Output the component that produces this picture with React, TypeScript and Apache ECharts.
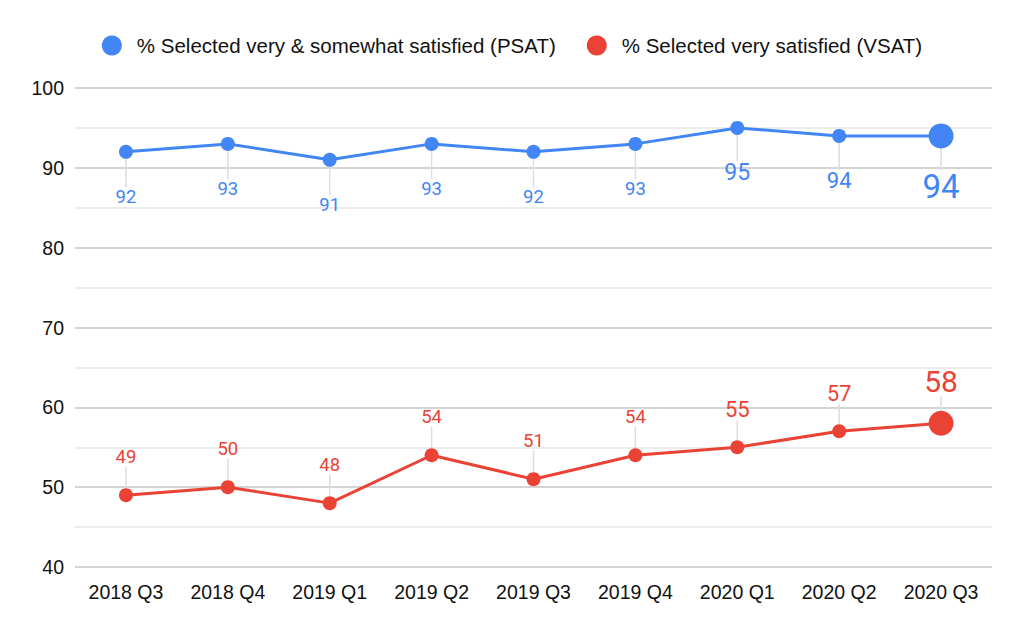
import React, { useEffect, useRef } from "react";
import * as echarts from "echarts";

const categories = ["2018 Q3", "2018 Q4", "2019 Q1", "2019 Q2", "2019 Q3", "2019 Q4", "2020 Q1", "2020 Q2", "2020 Q3"];
const psat = [92, 93, 91, 93, 92, 93, 95, 94, 94];
const vsat = [49, 50, 48, 54, 51, 54, 55, 57, 58];
const seriesNames = ["% Selected very & somewhat satisfied (PSAT)", "% Selected very satisfied (VSAT)"];
const yTicks = { min: 40, max: 100, interval: 10 };

const BLUE = "#4285F4";
const RED = "#EA4335";

// per-point label emphasis (style only)
const psatFont = [18.5, 18.5, 18.5, 18.5, 18.5, 18.5, 23, 22, 33];
const vsatFont = [18.5, 18.5, 18.5, 18.5, 18.5, 18.5, 22, 21.5, 30];

function buildData(values: number[], fonts: number[]) {
  return values.map((v, i) => ({
    value: v,
    symbolSize: i === values.length - 1 ? 25 : 14,
    label: { fontSize: fonts[i] },
  }));
}

export default function App() {
  const ref = useRef<HTMLDivElement>(null);
  useEffect(() => {
    if (!ref.current) return;
    const chart = echarts.init(ref.current, null, { renderer: "svg" });
    const labelLine = { show: true, lineStyle: { color: "#dddddd", width: 1.5 } };
    const axisFont = { fontFamily: "Liberation Sans, Arial", fontSize: 19.5, color: "#111111" };
    chart.setOption({
      animation: false,
      backgroundColor: "#ffffff",
      legend: {
        top: 30,
        left: "center",
        itemGap: 31,
        icon: "circle",
        itemWidth: 20,
        itemHeight: 20,
        textStyle: { fontFamily: "Liberation Sans, Arial", fontSize: 20.5, color: "#111111", padding: [0, 0, 0, 10] },
        data: seriesNames,
      },
      grid: { left: 75, right: 32, top: 88, bottom: 66 },
      xAxis: {
        type: "category",
        data: categories,
        boundaryGap: true,
        axisLine: { show: false },
        axisTick: { show: false },
        axisLabel: { ...axisFont, margin: 15 },
      },
      yAxis: {
        type: "value",
        min: yTicks.min,
        max: yTicks.max,
        interval: yTicks.interval,
        axisLine: { show: false },
        axisTick: { show: false },
        axisLabel: { ...axisFont, margin: 11 },
        splitLine: { lineStyle: { color: "#c6c6c6", width: 1.5 } },
        minorTick: { show: false, splitNumber: 2 },
        minorSplitLine: { show: true, lineStyle: { color: "#e6e6e6", width: 1.5 } },
      },
      series: [
        {
          name: seriesNames[0],
          type: "line",
          data: buildData(psat, psatFont),
          color: BLUE,
          symbol: "circle",
          lineStyle: { width: 3, color: BLUE },
          itemStyle: { color: BLUE },
          z: 3,
          label: {
            show: true,
            position: "inside",
            color: BLUE,
            fontFamily: "Roboto",
            fontSize: 18.5,
          },
          labelLine,
          labelLayout: (p: any) => ({ dy: p.dataIndex === psat.length - 1 ? 51 : 45 }),
        },
        {
          name: seriesNames[1],
          type: "line",
          data: buildData(vsat, vsatFont),
          color: RED,
          symbol: "circle",
          lineStyle: { width: 3, color: RED },
          itemStyle: { color: RED },
          z: 3,
          label: {
            show: true,
            position: "inside",
            color: RED,
            fontFamily: "Roboto",
            fontSize: 18.5,
          },
          labelLine,
          labelLayout: (p: any) => ({ dy: p.dataIndex === vsat.length - 1 ? -42 : -38 }),
        },
      ],
    });
    return () => chart.dispose();
  }, []);
  return <div ref={ref} style={{ position: "absolute", left: 0, top: 0, width: 1024, height: 633 }} />;
}
